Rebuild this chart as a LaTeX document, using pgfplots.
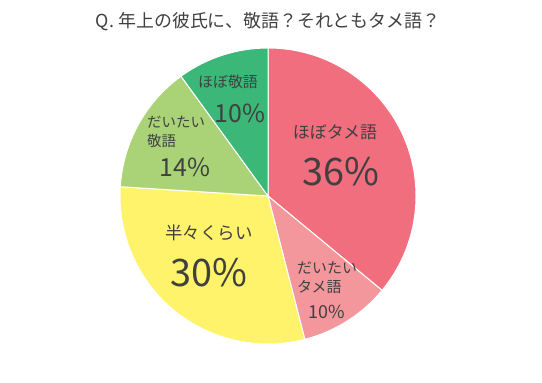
\documentclass[border=0pt]{standalone}
\usepackage{pgfplots}
\usepackage{pgfplotstable}
\pgfplotsset{compat=1.18}
\usepackage{fontspec}
\setmainfont{Noto Sans CJK JP}
\definecolor{cRed}{HTML}{F06E7E}
\definecolor{cPink}{HTML}{F4979C}
\definecolor{cYellow}{HTML}{FEF36A}
\definecolor{cLGreen}{HTML}{AAD377}
\definecolor{cGreen}{HTML}{3BB878}
\definecolor{txt}{HTML}{404040}
\pgfplotstableread{
value color
36 cRed
10 cPink
30 cYellow
14 cLGreen
10 cGreen
}\piedata
\begin{document}
\begin{tikzpicture}
\begin{axis}[
  width=542bp, height=383bp, scale only axis,
  xmin=0, xmax=542, ymin=0, ymax=383, y dir=reverse,
  axis line style={draw=none}, xtick=\empty, ytick=\empty,
  clip=false,
]
\def\cum{0}
\pgfplotsforeachungrouped \i in {0,...,4}{%
  \pgfplotstablegetelem{\i}{value}\of\piedata \let\slv\pgfplotsretval
  \pgfplotstablegetelem{\i}{color}\of\piedata \let\slc\pgfplotsretval
  \pgfmathsetmacro\sa{90-3.6*\cum}%
  \pgfmathsetmacro\ea{90-3.6*(\cum+\slv)}%
  \edef\temp{\noexpand\fill[\slc, draw=white, line width=1bp, line join=round] (axis cs:268,196) -- ++(\sa:148bp) arc[start angle=\sa, end angle=\ea, radius=148bp] -- cycle;}%
  \temp
  \pgfmathsetmacro\cum{\cum+\slv}%
}
\begin{scope}[every node/.style={text=txt, inner sep=0pt}]
\node[font=\fontsize{18}{20}\selectfont] at (axis cs:268,22) {Q. 年上の彼氏に、敬語？それともタメ語？};
% red
\node[font=\fontsize{17}{19}\selectfont] at (axis cs:335,132) {ほぼタメ語};
\node[font=\fontsize{38}{40}\selectfont] at (axis cs:341,172) {36\%};
% pink
\node[anchor=west, font=\fontsize{15}{17}\selectfont] at (axis cs:297,268) {だいたい};
\node[anchor=west, font=\fontsize{15}{17}\selectfont] at (axis cs:297,287) {タメ語};
\node[font=\fontsize{18}{20}\selectfont] at (axis cs:327,312) {10\%};
% yellow
\node[font=\fontsize{17.5}{19}\selectfont] at (axis cs:209,233) {半々くらい};
\node[font=\fontsize{38}{40}\selectfont] at (axis cs:209,273) {30\%};
% light green
\node[anchor=west, font=\fontsize{14.5}{16}\selectfont] at (axis cs:147,122) {だいたい};
\node[anchor=west, font=\fontsize{14.5}{16}\selectfont] at (axis cs:147,141) {敬語};
\node[font=\fontsize{25}{27}\selectfont] at (axis cs:185,167) {14\%};
% green
\node[font=\fontsize{15}{17}\selectfont] at (axis cs:228,82) {ほぼ敬語};
\node[font=\fontsize{25}{27}\selectfont] at (axis cs:240,113) {10\%};
\end{scope}
\end{axis}
\end{tikzpicture}
\end{document}
